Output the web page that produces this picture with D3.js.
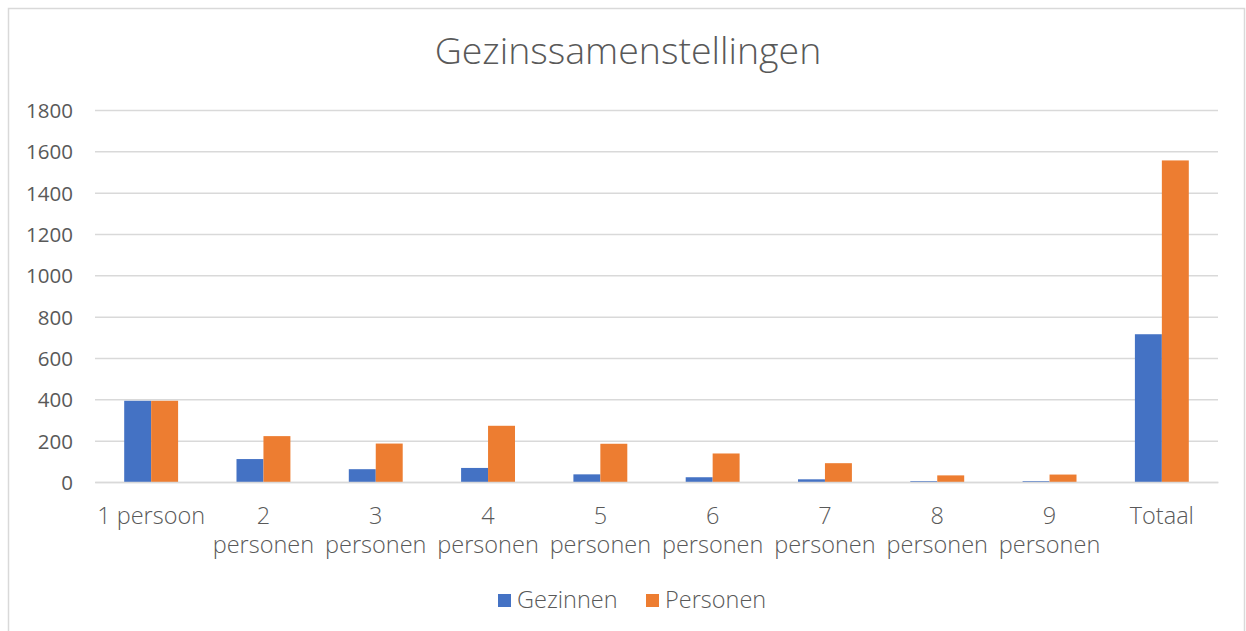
<!DOCTYPE html>
<html><head><meta charset="utf-8">
<script src="https://cdn.jsdelivr.net/npm/d3@7"></script>
<style>body{margin:0;background:#fff;} svg{display:block;}</style>
</head><body>
<script>
const categories = ["1 persoon","2 personen","3 personen","4 personen","5 personen","6 personen","7 personen","8 personen","9 personen","Totaal"];
const gezinnen = [393,111,62,68,37,23,13,4,4,715];
const personen = [393,222,186,272,185,138,91,32,36,1556];
const seriesNames = ["Gezinnen","Personen"];
const seriesColors = ["#4472C4","#ED7D31"];
const yTicks = [0,200,400,600,800,1000,1200,1400,1600,1800];
const title = "Gezinssamenstellingen";

(function(){
const W=1246,H=631;
const font = "'Open Sans', sans-serif";
const svg = d3.select("body").append("svg").attr("width",W).attr("height",H);
svg.append("rect").attr("x",8.5).attr("y",8.5).attr("width",W-10).attr("height",H).attr("fill","#fff").attr("stroke","#d9d9d9").attr("stroke-width",1.5);

const pl=95,pr=1218,pt=110,pb=482;
const x = d3.scaleBand().domain(categories).range([pl,pr]).paddingInner(0.52).paddingOuter(0.26);
const xs = d3.scaleBand().domain(seriesNames).range([0,x.bandwidth()]);
const y = d3.scaleLinear().domain([0,1800]).range([pb,pt]);

svg.append("text").attr("x",628).attr("y",64).attr("text-anchor","middle")
  .attr("font-family",font).attr("font-weight",300).attr("font-size",37.5).attr("fill","#595959").text(title);

const ya = svg.append("g").attr("transform",`translate(${pl},0)`)
  .call(d3.axisLeft(y).tickValues(yTicks).tickFormat(d3.format("d")).tickSize(-(pr-pl)).tickPadding(22));
ya.select(".domain").remove();
ya.selectAll("line").attr("stroke","#d9d9d9").attr("stroke-width",1.5);
ya.selectAll("text").attr("font-family",font).attr("font-size",20.5).attr("fill","#595959").attr("dy","0.36em");

const data = categories.map((c,i)=>({c, v:[gezinnen[i],personen[i]]}));
const g = svg.append("g");
data.forEach(d=>{
  seriesNames.forEach((s,j)=>{
    g.append("rect").attr("x",x(d.c)+xs(s)).attr("width",xs.bandwidth())
      .attr("y",y(d.v[j])).attr("height",y(0)-y(d.v[j])).attr("fill",seriesColors[j]);
  });
});

const xa = svg.append("g").attr("transform",`translate(0,${pb})`).call(d3.axisBottom(x).tickSize(0).tickFormat(""));
xa.select(".domain").attr("stroke","#d9d9d9").attr("stroke-width",1.5);

const xl = svg.append("g");
categories.forEach(c=>{
  const parts = c.split(" ");
  const lines = parts[0]==="1" || parts.length===1 ? [c] : [parts[0],parts[1]];
  const cx = x(c)+x.bandwidth()/2;
  lines.forEach((l,k)=>xl.append("text").attr("text-anchor","middle").attr("font-family",font).attr("font-weight",300)
    .attr("font-size",23.5).attr("fill","#595959").attr("x",cx).attr("y",524+k*29).text(l));
});

const leg = svg.append("g");
const legX=[498,646];
seriesNames.forEach((s,j)=>{
  leg.append("rect").attr("x",legX[j]).attr("y",594).attr("width",13).attr("height",13).attr("fill",seriesColors[j]);
  leg.append("text").attr("x",legX[j]+19).attr("y",608).attr("font-family",font).attr("font-weight",300)
    .attr("font-size",23.5).attr("fill","#595959").text(s);
});
})();
</script>
</body></html>
